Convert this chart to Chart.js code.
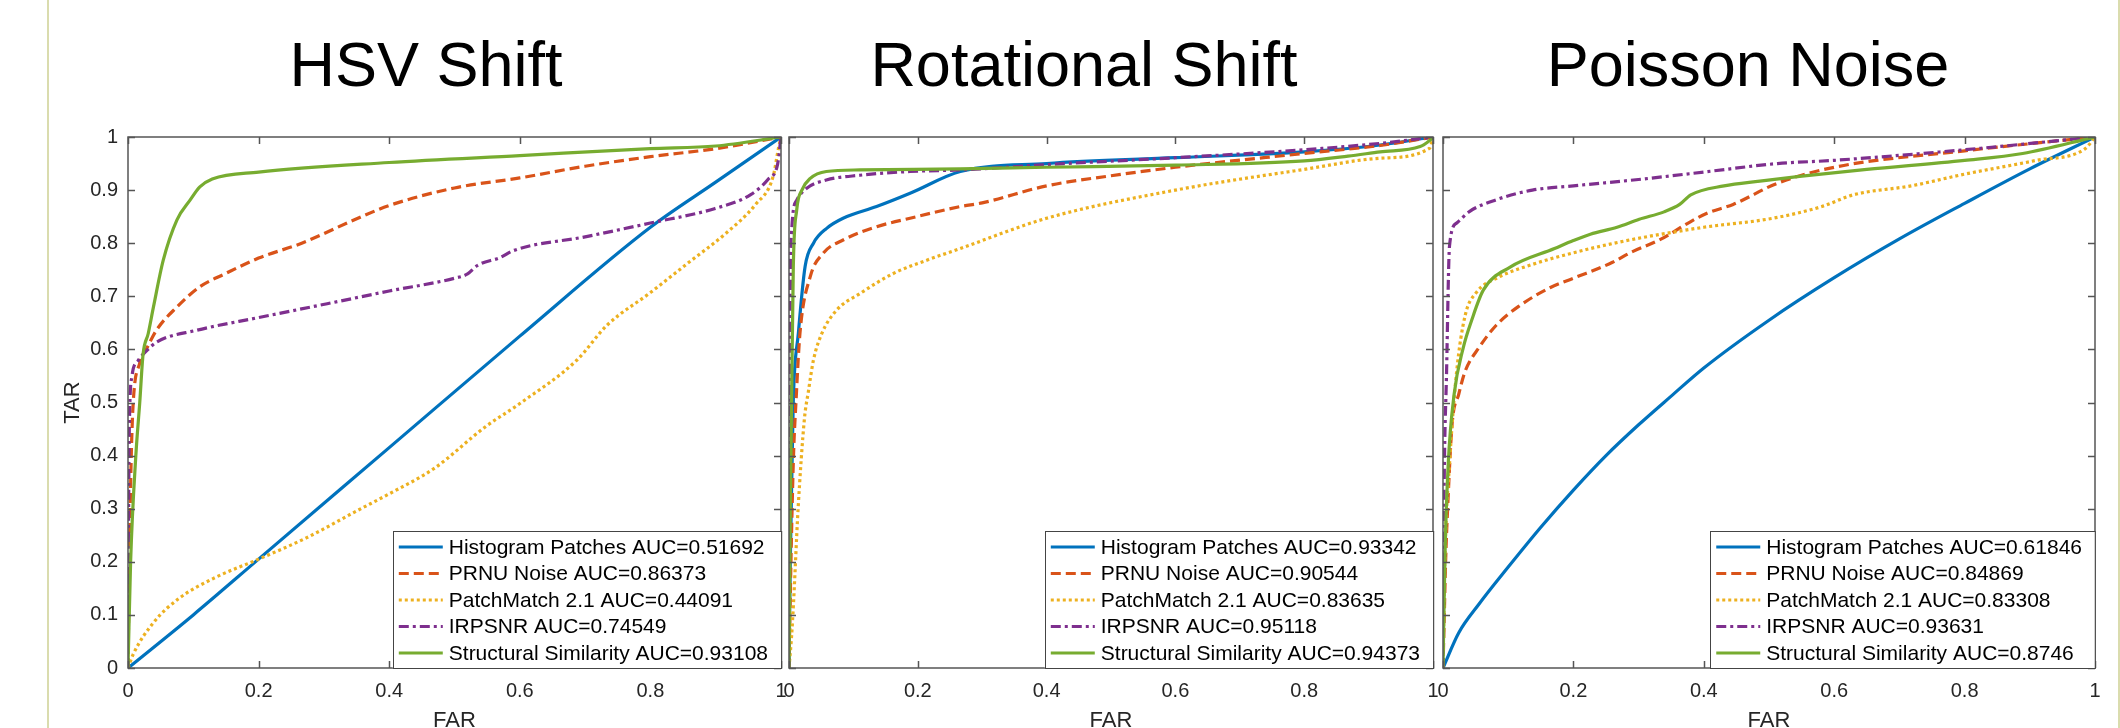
<!DOCTYPE html>
<html>
<head>
<meta charset="utf-8">
<script src="https://cdn.jsdelivr.net/npm/chart.js@4.4.1/dist/chart.umd.min.js"></script>
<style>
  html, body { margin: 0; padding: 0; background: #fff; }
  body { width: 2120px; height: 728px; overflow: hidden; position: relative; font-family: "Liberation Sans", Arial, sans-serif; }
  canvas { position: absolute; top: 0; }
  .title { position: absolute; top: 33px; font-size: 63px; line-height: 63px; color: #000; transform: translateX(-50%); white-space: nowrap; }
  .edge { position: absolute; top: 0; width: 2px; height: 728px; background: #dadcae; }
</style>
</head>
<body>
<div class="edge" style="left:47px"></div>
<div class="edge" style="left:2118px"></div>
<canvas id="c1" width="741" height="745" style="left:50px"></canvas>
<canvas id="c2" width="664" height="745" style="left:779px"></canvas>
<canvas id="c3" width="672" height="745" style="left:1433px"></canvas>
<script>
const panelTitles = ['HSV Shift', 'Rotational Shift', 'Poisson Noise'];
const methodNames = ['Histogram Patches', 'PRNU Noise', 'PatchMatch 2.1', 'IRPSNR', 'Structural Similarity'];
const hsvAUC = ['0.51692', '0.86373', '0.44091', '0.74549', '0.93108'];
const rotAUC = ['0.93342', '0.90544', '0.83635', '0.95118', '0.94373'];
const poissonAUC = ['0.61846', '0.84869', '0.83308', '0.93631', '0.8746'];
const xTicks = [0, 0.2, 0.4, 0.6, 0.8, 1];
const yTicks = [0, 0.1, 0.2, 0.3, 0.4, 0.5, 0.6, 0.7, 0.8, 0.9, 1];

// HSV Shift  [FAR, TAR]
const hsvHistogram = [[0,0],[0.1,0.1],[0.2,0.205],[0.4,0.415],[0.6,0.625],[0.8,0.83],[0.9,0.915],[1,1]];
const hsvPRNU = [[0,0],[0.002,0.2],[0.005,0.4],[0.008,0.5],[0.018,0.574],[0.03,0.605],[0.044,0.637],[0.075,0.68],[0.11,0.718],[0.148,0.742],[0.2,0.772],[0.266,0.8],[0.352,0.847],[0.4,0.871],[0.5,0.904],[0.6,0.923],[0.7,0.945],[0.8,0.963],[0.9,0.978],[1,1]];
const hsvPatchMatch = [[0,0],[0.008,0.026],[0.04,0.087],[0.078,0.131],[0.133,0.17],[0.2,0.205],[0.273,0.245],[0.352,0.297],[0.4,0.328],[0.469,0.376],[0.547,0.454],[0.6,0.498],[0.6875,0.58],[0.734,0.646],[0.8,0.707],[0.859,0.764],[0.914,0.817],[0.961,0.873],[0.988,0.926],[0.996,0.978],[1,1]];
const hsvIRPSNR = [[0,0],[0.001,0.3],[0.002,0.45],[0.006,0.549],[0.015,0.578],[0.029,0.598],[0.044,0.614],[0.105,0.636],[0.2,0.66],[0.305,0.686],[0.4,0.71],[0.5,0.734],[0.52,0.742],[0.535,0.758],[0.57,0.773],[0.59,0.786],[0.7,0.812],[0.8,0.838],[0.898,0.865],[0.953,0.891],[0.98,0.92],[0.995,0.95],[1,1]];
const hsvSSIM = [[0,0],[0.004,0.2],[0.012,0.4],[0.018,0.5],[0.023,0.59],[0.031,0.63],[0.039,0.68],[0.054,0.768],[0.075,0.844],[0.095,0.881],[0.11,0.906],[0.129,0.921],[0.2,0.934],[0.4,0.952],[0.6,0.965],[0.8,0.978],[0.9,0.983],[1,1]];

// Rotational Shift
const rotHistogram = [[0,0],[0.002,0.2],[0.005,0.4],[0.0067,0.505],[0.0145,0.63],[0.025,0.756],[0.038,0.8],[0.0585,0.828],[0.084,0.847],[0.136,0.869],[0.188,0.894],[0.266,0.935],[0.4,0.95],[0.6,0.961],[0.8,0.972],[0.918,0.985],[1,1]];
const rotPRNU = [[0,0],[0.003,0.2],[0.007,0.4],[0.011,0.505],[0.017,0.63],[0.033,0.737],[0.053,0.781],[0.084,0.806],[0.136,0.831],[0.188,0.847],[0.266,0.869],[0.3,0.876],[0.4,0.908],[0.5,0.927],[0.6,0.943],[0.8,0.969],[0.918,0.984],[1,1]];
const rotPatchMatch = [[0,0],[0.004,0.06],[0.007,0.122],[0.014,0.297],[0.024,0.47],[0.03,0.52],[0.038,0.58],[0.051,0.63],[0.074,0.674],[0.11,0.705],[0.162,0.743],[0.214,0.768],[0.266,0.79],[0.4,0.847],[0.6,0.9],[0.8,0.939],[0.918,0.96],[0.995,0.979],[1,1]];
const rotIRPSNR = [[0,0],[0.0005,0.2],[0.001,0.4],[0.0016,0.63],[0.004,0.82],[0.012,0.881],[0.027,0.903],[0.058,0.919],[0.11,0.928],[0.188,0.935],[0.266,0.938],[0.4,0.948],[0.6,0.961],[0.8,0.976],[0.918,0.988],[1,1]];
const rotSSIM = [[0,0],[0.002,0.3],[0.004,0.5],[0.0067,0.756],[0.012,0.863],[0.02,0.9],[0.033,0.922],[0.058,0.935],[0.11,0.938],[0.266,0.94],[0.4,0.943],[0.6,0.947],[0.8,0.955],[0.868,0.964],[0.918,0.972],[0.98,0.982],[1,0.998]];

// Poisson Noise
const poiHistogram = [[0,0],[0.024,0.066],[0.055,0.12],[0.1,0.19],[0.15,0.265],[0.2,0.335],[0.25,0.4],[0.3,0.458],[0.35,0.512],[0.4,0.565],[0.5,0.655],[0.6,0.735],[0.7,0.808],[0.8,0.875],[0.9,0.94],[1,1]];
const poiPRNU = [[0,0],[0.002,0.1],[0.004,0.2],[0.007,0.297],[0.014,0.46],[0.024,0.515],[0.034,0.559],[0.055,0.603],[0.082,0.646],[0.116,0.681],[0.164,0.716],[0.2,0.734],[0.26,0.764],[0.287,0.782],[0.335,0.808],[0.376,0.838],[0.404,0.856],[0.445,0.873],[0.513,0.913],[0.6,0.943],[0.8,0.974],[1,1]];
const poiPatchMatch = [[0,0],[0.003,0.21],[0.01,0.384],[0.021,0.559],[0.034,0.664],[0.051,0.707],[0.082,0.734],[0.137,0.76],[0.2,0.782],[0.274,0.803],[0.335,0.817],[0.4,0.83],[0.506,0.847],[0.581,0.869],[0.629,0.891],[0.718,0.908],[0.8,0.93],[0.91,0.956],[0.985,0.978],[1,1]];
const poiIRPSNR = [[0,0],[0.0014,0.297],[0.0055,0.559],[0.01,0.795],[0.021,0.838],[0.041,0.86],[0.082,0.882],[0.137,0.9],[0.2,0.908],[0.308,0.921],[0.4,0.934],[0.513,0.95],[0.6,0.956],[0.8,0.976],[1,1]];
const poiSSIM = [[0,0],[0.003,0.21],[0.008,0.384],[0.017,0.515],[0.031,0.603],[0.044,0.655],[0.062,0.712],[0.103,0.755],[0.171,0.79],[0.2,0.805],[0.226,0.817],[0.267,0.83],[0.301,0.845],[0.339,0.859],[0.363,0.873],[0.38,0.891],[0.431,0.908],[0.486,0.917],[0.547,0.926],[0.65,0.939],[0.8,0.956],[0.889,0.969],[1,1]];

const colors = ['#0072BD', '#D95319', '#EDB120', '#7E2F8E', '#77AC30'];
const dashes = [[], [10, 5], [3, 3], [10, 4, 3, 4], []];
const FONT = "'Liberation Sans', Arial, sans-serif";
Chart.defaults.font.family = FONT;

// titles as html text
const titleX = [426, 1084, 1748];
panelTitles.forEach((t, i) => {
  const d = document.createElement('div');
  d.className = 'title';
  d.style.left = titleX[i] + 'px';
  d.textContent = t;
  document.body.appendChild(d);
});

// box with inward ticks + legend inside the axes (matlab style)
const frame = {
  id: 'frame',
  afterDatasetsDraw(chart) {
    const {ctx, chartArea: a, scales: {x, y}} = chart;
    ctx.save();
    ctx.strokeStyle = '#555';
    ctx.lineWidth = 1.5;
    ctx.strokeRect(a.left, a.top, a.right - a.left, a.bottom - a.top);
    ctx.beginPath();
    x.ticks.forEach(t => {
      const p = Math.round(x.getPixelForValue(t.value)) + 0.5;
      ctx.moveTo(p, a.bottom); ctx.lineTo(p, a.bottom - 7);
      ctx.moveTo(p, a.top); ctx.lineTo(p, a.top + 7);
    });
    y.ticks.forEach(t => {
      const p = Math.round(y.getPixelForValue(t.value)) + 0.5;
      ctx.moveTo(a.left, p); ctx.lineTo(a.left + 7, p);
      ctx.moveTo(a.right, p); ctx.lineTo(a.right - 7, p);
    });
    ctx.stroke();

    // legend
    const sets = chart.data.datasets;
    ctx.font = '21px ' + FONT;
    let maxW = 0;
    sets.forEach(d => { maxW = Math.max(maxW, ctx.measureText(d.label).width); });
    const rowH = 26.5;
    const w = 6 + 44 + 6 + maxW + 13;
    const h = 137;
    const bx = a.right - w, by = a.bottom - h;
    ctx.fillStyle = '#fff';
    ctx.fillRect(bx, by, w, h);
    ctx.strokeStyle = '#444';
    ctx.lineWidth = 1;
    ctx.strokeRect(Math.round(bx) + 0.5, Math.round(by) + 0.5, w, h);
    ctx.textBaseline = 'middle';
    ctx.textAlign = 'left';
    sets.forEach((d, i) => {
      const cy = by + 16 + i * rowH;
      ctx.beginPath();
      ctx.setLineDash(d.borderDash || []);
      ctx.strokeStyle = d.borderColor;
      ctx.lineWidth = 3.2;
      ctx.moveTo(bx + 6, cy); ctx.lineTo(bx + 50, cy);
      ctx.stroke();
      ctx.setLineDash([]);
      ctx.fillStyle = '#000';
      ctx.fillText(d.label, bx + 56, cy + 1);
    });
    ctx.restore();
  }
};

function makePanel(id, series, auc, first) {
  return new Chart(document.getElementById(id), {
    type: 'scatter',
    data: {
      datasets: series.map((pts, i) => ({
        label: methodNames[i] + ' AUC=' + auc[i],
        data: pts.map(p => ({x: p[0], y: p[1]})),
        showLine: true,
        borderColor: colors[i],
        backgroundColor: colors[i],
        borderWidth: 3.2,
        borderDash: dashes[i],
        borderCapStyle: 'butt',
        pointRadius: 0,
        cubicInterpolationMode: 'monotone',
        order: 4 - i
      }))
    },
    options: {
      responsive: false,
      animation: false,
      devicePixelRatio: 1,
      layout: { padding: { top: 137, left: first ? 0 : 10, right: 10, bottom: 0 } },
      plugins: { legend: { display: false }, tooltip: { enabled: false } },
      scales: {
        x: {
          type: 'linear', min: 0, max: 1,
          afterBuildTicks: s => { s.ticks = xTicks.map(v => ({value: v})); },
          // fixed axis height, no extra side padding for end labels
          afterFit: s => { s.height = 77; s.paddingLeft = 0; s.paddingRight = 0; },
          grid: { display: false, drawTicks: false },
          border: { display: false },
          ticks: { padding: 11, color: '#262626', font: { size: 20 }, maxRotation: 0, callback: v => String(v) },
          title: { display: true, text: 'FAR', color: '#262626', font: { size: 22 }, padding: { top: 0, bottom: 11 } }
        },
        y: {
          type: 'linear', min: 0, max: 1,
          afterBuildTicks: s => { s.ticks = yTicks.map(v => ({value: v})); },
          afterFit: s => { s.width = first ? 78 : 0; s.paddingTop = 0; s.paddingBottom = 0; },
          grid: { display: false, drawTicks: false },
          border: { display: false },
          ticks: { display: first, padding: 10, color: '#262626', font: { size: 20 }, callback: v => String(v) },
          title: { display: first, text: 'TAR', color: '#262626', font: { size: 22 }, padding: { top: 10, bottom: 0 } }
        }
      }
    },
    plugins: [frame]
  });
}

makePanel('c1', [hsvHistogram, hsvPRNU, hsvPatchMatch, hsvIRPSNR, hsvSSIM], hsvAUC, true);
makePanel('c2', [rotHistogram, rotPRNU, rotPatchMatch, rotIRPSNR, rotSSIM], rotAUC, false);
makePanel('c3', [poiHistogram, poiPRNU, poiPatchMatch, poiIRPSNR, poiSSIM], poissonAUC, false);
</script>
</body>
</html>
